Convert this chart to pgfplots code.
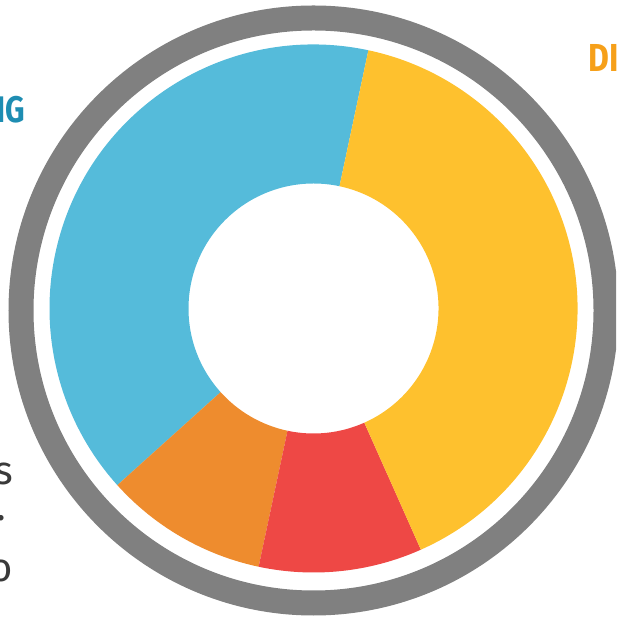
\documentclass[border=0pt]{standalone}
\usepackage{pgfplots}
\usepackage{pgfplotstable}
\pgfplotsset{compat=1.18}
\usepackage{fontspec}
\setmainfont{Fira Sans}
\newfontfamily\headfont[FakeStretch=0.82]{Fira Sans}
\definecolor{cblue}{HTML}{55BBDA}
\definecolor{corange}{HTML}{EE8C2E}
\definecolor{cred}{HTML}{EE4845}
\definecolor{cyellow}{HTML}{FEC12E}
\definecolor{cring}{HTML}{808080}
\definecolor{cng}{HTML}{1E8DB2}
\definecolor{cdi}{HTML}{F6A01A}
\definecolor{ctext}{HTML}{3A3A3A}

% donut shares in percent, counter-clockwise from the start angle
\pgfplotstableread{
label  value color
Blue   40    cblue
Orange 10    corange
Red    10    cred
Yellow 40    cyellow
}\donutdata

\begin{document}
\begin{tikzpicture}
\useasboundingbox (0,0) rectangle (616pt,623pt);
\clip (0,0) rectangle (616pt,623pt);
\begin{axis}[
  at={(0,0)}, anchor=south west,
  x=1pt, y=1pt,
  xmin=0, xmax=616, ymin=0, ymax=623,
  hide axis, clip=false,
]
\def\cx{313.5}
\def\cy{314.5}
\def\ro{264}
\def\ri{125}
\def\startang{78}
\pgfplotstablegetrowsof{\donutdata}
\pgfmathtruncatemacro\nrows{\pgfplotsretval-1}
\pgfplotsforeachungrouped \i in {0,...,\nrows}{%
  \pgfplotstablegetelem{\i}{value}\of\donutdata
  \let\v\pgfplotsretval
  \pgfplotstablegetelem{\i}{color}\of\donutdata
  \let\c\pgfplotsretval
  \pgfmathsetmacro\endang{\startang+3.6*\v}%
  \edef\temp{\noexpand\fill[\c]
    (axis cs:{\cx+\ri*cos(\startang)},{\cy+\ri*sin(\startang)})
    -- (axis cs:{\cx+\ro*cos(\startang)},{\cy+\ro*sin(\startang)})
    arc[start angle=\startang, end angle=\endang, radius=\ro pt]
    -- (axis cs:{\cx+\ri*cos(\endang)},{\cy+\ri*sin(\endang)})
    arc[start angle=\endang, end angle=\startang, radius=\ri pt]
    -- cycle;}%
  \temp
  \global\let\startang\endang
}
\draw[cring, line width=25pt] (axis cs:313.5,312.5) circle[radius=292.5pt];

\node[anchor=base east, inner sep=0pt, text=cng, font=\headfont\bfseries\fontsize{37}{40}\selectfont] at (axis cs:25,500) {NG};
\node[anchor=base west, inner sep=0pt, text=cdi, font=\headfont\bfseries\fontsize{39}{42}\selectfont] at (axis cs:588,551) {DI};
\node[anchor=base east, inner sep=0pt, text=ctext, font=\fontsize{40}{44}\selectfont] at (axis cs:13,138) {s};
\node[anchor=base east, inner sep=0pt, text=ctext, font=\fontsize{40}{44}\selectfont] at (axis cs:6,102) {.};
\node[anchor=base east, inner sep=0pt, text=ctext, font=\fontsize{40}{44}\selectfont] at (axis cs:13,41) {o};
\end{axis}
\end{tikzpicture}
\end{document}
